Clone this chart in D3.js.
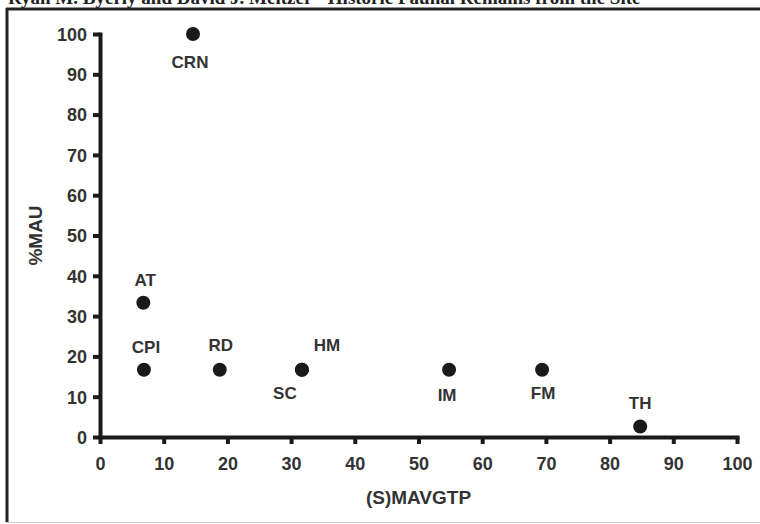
<!DOCTYPE html>
<html>
<head>
<meta charset="utf-8">
<script src="https://cdn.jsdelivr.net/npm/d3@7"></script>
<style>
  body { margin: 0; background: #fff; }
  svg { display: block; }
  .tick text { font-family: Arial, "Liberation Sans", sans-serif; font-weight: bold; font-size: 18px; fill: #333; }
</style>
</head>
<body>
<svg id="chart"></svg>
<script>
// bone element labels and their values
const elements = ["CRN", "AT", "CPI", "RD", "HM", "SC", "IM", "FM", "TH"];
const smavgtp = [14.6, 6.8, 6.9, 18.8, 31.7, 31.7, 54.8, 69.4, 84.8];
const mau = [100, 33.3, 16.7, 16.7, 16.7, 16.7, 16.7, 16.7, 2.6];
const xTicks = [0, 10, 20, 30, 40, 50, 60, 70, 80, 90, 100];
const yTicks = [0, 10, 20, 30, 40, 50, 60, 70, 80, 90, 100];

// where each label sits relative to its point
const labelPos = {
  CRN: [-3, 28], AT: [2, -23], CPI: [2, -23], RD: [1, -25],
  HM: [25, -25], SC: [-17, 23], IM: [-2, 25], FM: [1, 23], TH: [0, -23]
};

const width = 760, height = 524;
const margin = { top: 34, right: 23, bottom: 87, left: 100 };

const svg = d3.select("#chart").attr("width", width).attr("height", height);

// cropped page heading and frame
svg.append("text")
  .attr("x", 8).attr("y", 4)
  .attr("font-family", "Liberation Serif, serif")
  .attr("font-size", 19).attr("font-weight", "bold")
  .attr("fill", "#222")
  .text("Ryan M. Byerly and David J. Meltzer · Historic Faunal Remains from the Site");

svg.append("line").attr("x1", 6).attr("x2", width).attr("y1", 9).attr("y2", 9)
  .attr("stroke", "#222").attr("stroke-width", 3);
svg.append("line").attr("x1", 7).attr("x2", 7).attr("y1", 8).attr("y2", 522)
  .attr("stroke", "#222").attr("stroke-width", 3);
svg.append("line").attr("x1", 6).attr("x2", width).attr("y1", 522.5).attr("y2", 522.5)
  .attr("stroke", "#ccc").attr("stroke-width", 1);

const x = d3.scaleLinear().domain([0, 100]).range([margin.left, 737]);
const y = d3.scaleLinear().domain([0, 100]).range([437, margin.top]);

const xAxis = svg.append("g").attr("transform", `translate(0, ${y(0)})`)
  .call(d3.axisBottom(x).tickValues(xTicks).tickSize(7).tickPadding(12).tickSizeOuter(0));
const yAxis = svg.append("g").attr("transform", `translate(${x(0)}, 0)`)
  .call(d3.axisLeft(y).tickValues(yTicks).tickSize(7).tickPadding(6).tickSizeOuter(0));

[xAxis, yAxis].forEach(a => {
  a.select(".domain").attr("stroke", "#1a1a1a").attr("stroke-width", 4).attr("stroke-linecap", "square");
  a.selectAll(".tick line").attr("stroke", "#1a1a1a").attr("stroke-width", 4);
});
xAxis.selectAll(".tick text").attr("dy", "0.8em");
yAxis.selectAll(".tick text").attr("dy", "0.35em");

svg.append("text")
  .attr("x", (x(0) + x(100)) / 2).attr("y", 504)
  .attr("text-anchor", "middle")
  .attr("font-family", "Arial, Liberation Sans, sans-serif")
  .attr("font-weight", "bold").attr("font-size", 19).attr("fill", "#333")
  .text("(S)MAVGTP");

svg.append("text")
  .attr("transform", `translate(42, ${(y(0) + y(100)) / 2}) rotate(-90)`)
  .attr("text-anchor", "middle")
  .attr("font-family", "Arial, Liberation Sans, sans-serif")
  .attr("font-weight", "bold").attr("font-size", 19).attr("fill", "#333")
  .text("%MAU");

const pts = elements.map((e, i) => ({ name: e, x: smavgtp[i], y: mau[i] }));

svg.append("g").selectAll("circle")
  .data(pts)
  .join("circle")
  .attr("cx", d => x(d.x))
  .attr("cy", d => y(d.y))
  .attr("r", 7)
  .attr("fill", "#1a1a1a");

svg.append("g").selectAll("text")
  .data(pts)
  .join("text")
  .attr("x", d => x(d.x) + labelPos[d.name][0])
  .attr("y", d => y(d.y) + labelPos[d.name][1])
  .attr("dy", "0.35em")
  .attr("text-anchor", "middle")
  .attr("font-family", "Arial, Liberation Sans, sans-serif")
  .attr("font-weight", "bold").attr("font-size", 17).attr("fill", "#333")
  .text(d => d.name);
</script>
</body>
</html>
